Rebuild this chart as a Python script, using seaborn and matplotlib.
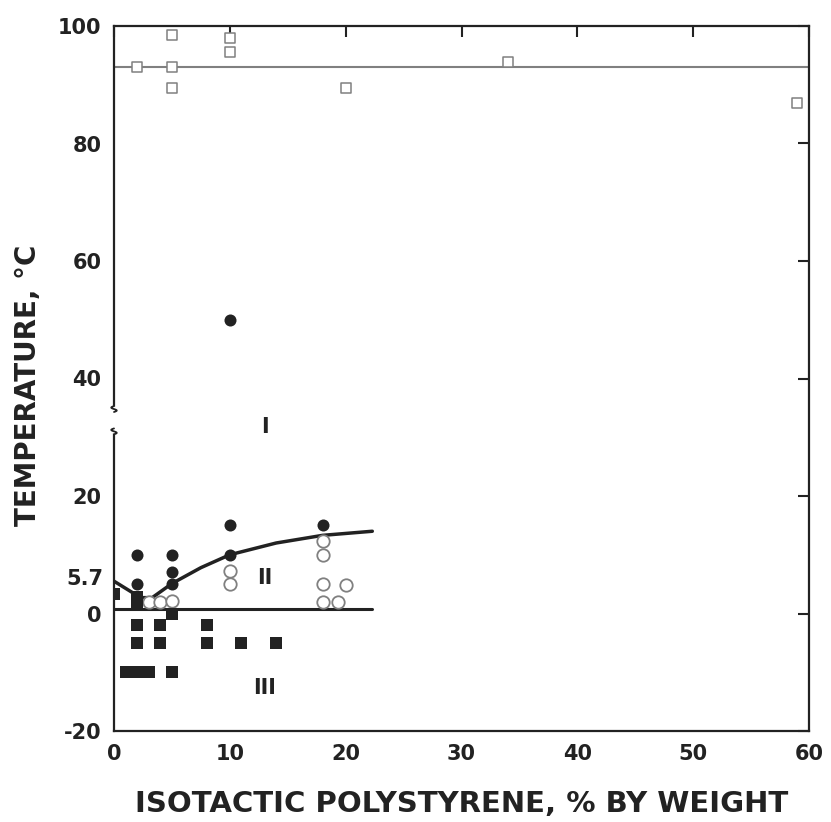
import matplotlib
matplotlib.use("Agg")
import matplotlib.pyplot as plt
import seaborn as sns
import numpy as np
import pandas as pd

# ---- data ----
open_sq_x = [2, 5, 5, 5, 10, 10, 20, 34, 59]
open_sq_y = [93, 98.5, 93, 89.4, 98, 95.6, 89.4, 93.9, 86.9]

filled_circ_x = [2, 2, 5, 5, 5, 10, 10, 10, 18]
filled_circ_y = [10, 5, 10, 7, 5, 15, 10, 50, 15]

open_circ_x = [3, 4, 5, 10, 10, 18, 18, 18, 18, 19.3, 20]
open_circ_y = [2, 2, 2.2, 7.2, 5.1, 12.3, 10, 5, 1.9, 1.9, 4.8]

filled_sq_x = [0, 2, 2, 5, 2, 4, 8, 2, 4, 8, 11, 14, 1, 2, 2.5, 3, 5]
filled_sq_y = [3.4, 2.8, 1.4, 0, -2, -2, -2, -5, -5, -5, -5, -5, -10, -10, -10, -10, -10]

boundary_upper = 93
curve_x = [0, 2.3, 3.3, 5, 7.5, 10, 14, 18, 22.3]
curve_y = [5.5, 2.7, 2.7, 5.1, 7.8, 10, 12, 13.3, 14]
lower_line_x = [0, 22.3]
lower_line_y = [0.8, 0.8]

region_labels = ["I", "II", "III"]
region_x = [13, 13, 13]
region_y = [31.7, 6, -12.6]

x_ticks = [0, 10, 20, 30, 40, 50, 60]
y_ticks = [-20, 0, 20, 40, 60, 80, 100]

sns.set_theme(style="white")
plt.rcParams['font.family'] = ['DejaVu Sans']
plt.rcParams['axes.unicode_minus'] = False

ink = "#222222"
gray = "#808080"

fig = plt.figure(figsize=(8.31, 8.22), dpi=100)
ax = fig.add_axes([114/831, 1-731/822, (809-114)/831, (731-26)/822])

# lines
sns.lineplot(x=[0, 60], y=[boundary_upper, boundary_upper], ax=ax, color=gray, lw=1.5)
sns.lineplot(x=curve_x, y=curve_y, ax=ax, color=ink, lw=2.5, sort=False)
sns.lineplot(x=lower_line_x, y=lower_line_y, ax=ax, color=ink, lw=2.2)

# markers
sns.scatterplot(x=open_sq_x, y=open_sq_y, ax=ax, marker="s", s=62,
                facecolor="white", edgecolor=gray, linewidth=1.1, zorder=5)
sns.scatterplot(x=open_circ_x, y=open_circ_y, ax=ax, marker="o", s=80,
                facecolor="white", edgecolor=gray, linewidth=1.3, zorder=5)
sns.scatterplot(x=filled_circ_x, y=filled_circ_y, ax=ax, marker="o", s=75,
                color=ink, edgecolor=ink, linewidth=0, zorder=6)
sns.scatterplot(x=filled_sq_x, y=filled_sq_y, ax=ax, marker="s", s=75,
                color=ink, edgecolor=ink, linewidth=0, zorder=6)

for lab, xx, yy in zip(region_labels, region_x, region_y):
    ax.text(xx, yy, lab, ha="center", va="center", fontsize=15,
            fontweight="bold", color=ink, family="Liberation Sans Narrow")

ax.set_xlim(0, 60)
ax.set_ylim(-20, 100)
ax.set_xticks(x_ticks)
ax.set_yticks(y_ticks)
ax.tick_params(axis="both", direction="in", length=8, width=1.5, color=ink,
               labelsize=15, labelcolor=ink, pad=9)
ax.tick_params(top=True, right=True)
for lbl in ax.get_xticklabels() + ax.get_yticklabels():
    lbl.set_fontweight("bold")
ax.text(-0.015, 5.9, "5.7", transform=ax.get_yaxis_transform(), ha="right",
        va="center", fontsize=15, fontweight="bold", color=ink)

for sp in ax.spines.values():
    sp.set_color(ink)
    sp.set_linewidth(1.6)
    sp.set_visible(True)

# axis break mark on the y axis
trans = ax.get_yaxis_transform()
ax.plot([0, 0], [31.0, 34.8], transform=trans, color="white", lw=4,
        clip_on=False, zorder=10)
tt = np.linspace(-1, 1, 20)
for yb in (31.0, 34.8):
    ax.plot(-0.004 * np.sin(np.pi * tt), yb + 0.5 * tt, transform=trans,
            color=ink, lw=1.3, clip_on=False, zorder=11)

ax.set_xlabel("ISOTACTIC POLYSTYRENE, % BY WEIGHT", fontsize=21,
              fontweight="bold", color=ink, labelpad=19)
ax.set_ylabel("TEMPERATURE, °C", fontsize=20, fontweight="bold",
              color=ink)
ax.yaxis.set_label_coords(-0.104, 0.491)

fig.savefig("out.png", dpi=100, facecolor="white")
